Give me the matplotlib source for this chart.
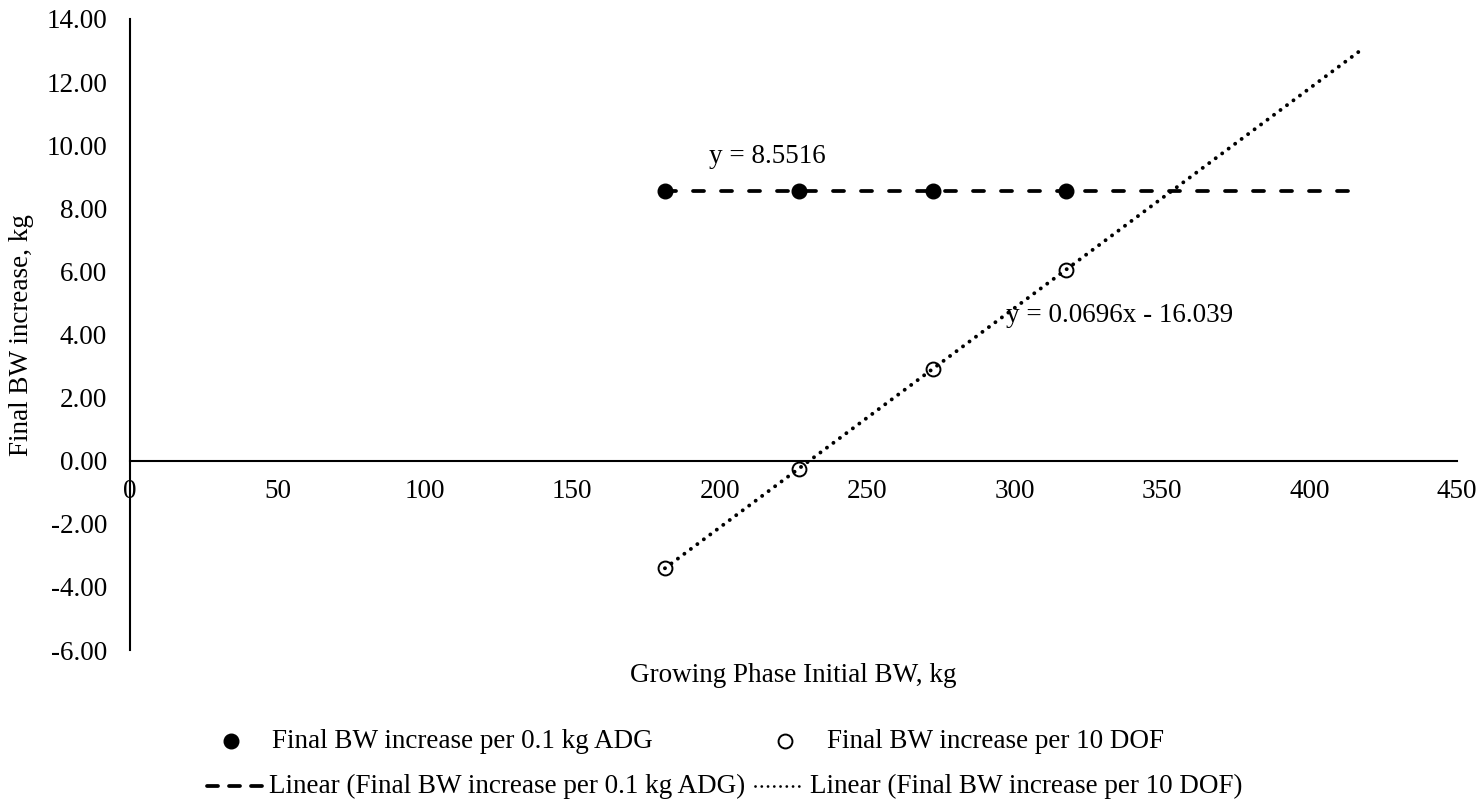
import numpy as np
import matplotlib
matplotlib.use("Agg")
import matplotlib.pyplot as plt
from matplotlib.lines import Line2D

plt.rcParams['font.family'] = ['Liberation Serif', 'DejaVu Serif']

# Growing phase initial body weight (kg)
initial_bw = [181.4, 226.8, 272.2, 317.5]
# Final BW increase per 0.1 kg ADG (kg)
adg_increase = [8.5516, 8.5516, 8.5516, 8.5516]
# Final BW increase per 10 DOF (kg)
dof_increase = [-3.41, -0.25, 2.91, 6.06]

adg_label = "Final BW increase per 0.1 kg ADG"
dof_label = "Final BW increase per 10 DOF"
x_ticks = [0, 50, 100, 150, 200, 250, 300, 350, 400, 450]
y_ticks = [-6, -4, -2, 0, 2, 4, 6, 8, 10, 12, 14]
forecast_forward = 100

W, H = 1481, 802
fig = plt.figure(figsize=(W / 100, H / 100), dpi=100)
ax = fig.add_axes([130 / W, 1 - 650 / H, (1457 - 130) / W, (650 - 19) / H])

FS = 19.5
PT = 0.72  # points per pixel at 100 dpi

x = np.array(initial_bw)
# linear trend lines, extended forward
xt = np.array([x.min(), x.max() + forecast_forward])
p_adg = np.polyfit(x, adg_increase, 1)
p_dof = np.polyfit(x, dof_increase, 1)

dash_lw = 2.7
dot_lw = 2.8
dash_style = (0, (11 * PT / dash_lw, 17 * PT / dash_lw))
dot_style = (0, (0.02, 8 * PT / dot_lw))

ax.plot(xt, np.polyval(p_adg, xt), color='black', lw=dash_lw, linestyle=dash_style,
        dash_capstyle='round', zorder=2)
ax.plot(xt, np.polyval(p_dof, xt), color='black', lw=dot_lw, linestyle=dot_style,
        dash_capstyle='round', zorder=2)

ax.plot(x, adg_increase, 'o', color='black', ms=10.5, zorder=3)
ax.plot(x, dof_increase, 'o', mfc='none', mec='black', mew=1.4, ms=10, zorder=3)


def px_to_x(px):
    return (px - 130) / (1457 - 130) * 450


ax.text(px_to_x(767), 8.5516 + 1.08, "y = 8.5516", fontsize=FS, ha='center', va='center')
ax.text(px_to_x(1120), 4.6, "y = 0.0696x - 16.039", fontsize=FS, ha='center', va='center')

ax.set_xlim(0, 450)
ax.set_ylim(-6, 14)
ax.set_xticks(x_ticks)
ax.set_yticks(y_ticks)
ax.set_yticklabels([f"{v:.2f}" for v in y_ticks])
ax.set_xticklabels([str(v) for v in x_ticks])
ax.tick_params(axis='both', length=0, labelsize=FS)
ax.tick_params(axis='y', pad=16.5)
ax.tick_params(axis='x', pad=13)

for s in ('top', 'right'):
    ax.spines[s].set_visible(False)
ax.spines['bottom'].set_position(('data', 0))
ax.spines['left'].set_linewidth(1.5)
ax.spines['bottom'].set_linewidth(1.5)

fig.text(793 / W, 1 - 676 / H, "Growing Phase Initial BW, kg", fontsize=FS,
         ha='center', va='center')
fig.text(22 / W, 1 - 335 / H, "Final BW increase, kg", fontsize=FS,
         ha='center', va='center', rotation=90)


# legend keys and entries
def fx(px):
    return px / W


def fy(py):
    return 1 - py / H


r1, r2 = 741, 786
fig.add_artist(Line2D([fx(231)], [fy(r1)], marker='o', color='black', ms=10.5, ls='none'))
fig.text(fx(272), fy(r1), adg_label, fontsize=FS, va='center', ha='left')
fig.add_artist(Line2D([fx(785)], [fy(r1)], marker='o', mfc='none', mec='black', mew=1.4,
                      ms=10, ls='none'))
fig.text(fx(827), fy(r1), dof_label, fontsize=FS, va='center', ha='left')

fig.add_artist(Line2D([fx(207), fx(263)], [fy(r2), fy(r2)], color='black', lw=dash_lw,
                      linestyle=(0, (11 * PT / dash_lw, 11 * PT / dash_lw)),
                      dash_capstyle='round'))
fig.text(fx(269), fy(r2), f"Linear ({adg_label})", fontsize=FS, va='center', ha='left')
fig.add_artist(Line2D([fx(755), fx(805)], [fy(r2), fy(r2)], color='black', lw=2.0,
                      linestyle=(0, (0.02, 6.2 * PT / 2.0)), dash_capstyle='round'))
fig.text(fx(810), fy(r2), f"Linear ({dof_label})", fontsize=FS, va='center', ha='left')

fig.savefig("out.png", dpi=100, facecolor='white')
